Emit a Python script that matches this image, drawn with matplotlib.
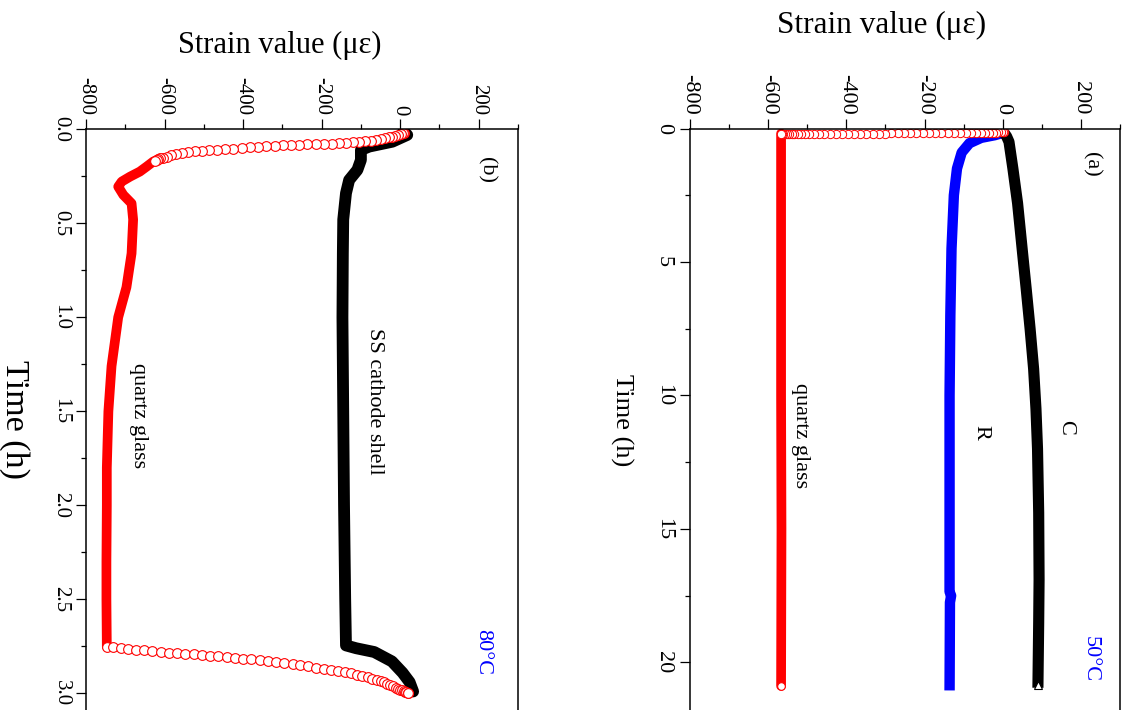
import matplotlib
matplotlib.use('Agg')
import matplotlib.pyplot as plt
from matplotlib.ticker import MultipleLocator, FormatStrFormatter

plt.rcParams['font.family'] = 'Liberation Serif'
plt.rcParams['axes.unicode_minus'] = False

# ---- panel (b), 80 C : time in h, strain in micro-strain ----
b_ss_t = [0.01, 0.03, 0.066, 0.092, 0.11, 0.163, 0.216, 0.27, 0.34, 0.48, 0.66, 1.0, 1.5,
          2.0, 2.5, 2.745, 2.76, 2.78, 2.83, 2.89, 2.94, 2.99]
b_ss_s = [8, 18, -20, -79, -100, -100, -109, -130, -138, -145, -146, -147, -145,
          -143, -140, -138, -112, -66, -21, 6, 24, 33]

b_glass_t = [0.155, 0.172, 0.199, 0.225, 0.252, 0.278, 0.305, 0.349, 0.394, 0.48, 0.66,
             0.84, 1.0, 1.26, 1.5, 1.8, 2.0, 2.3, 2.5, 2.752]
b_glass_s = [-612, -629, -646, -663, -688, -709, -718, -705, -684, -680, -684,
             -697, -718, -735, -743, -747, -747, -748, -748, -747]

# single points visible as open circles (heating start)
b_drop_t = [0.018, 0.022, 0.026, 0.030, 0.034, 0.039, 0.043, 0.047, 0.052, 0.057,
            0.060, 0.063, 0.066, 0.069, 0.072, 0.075, 0.077, 0.078, 0.079, 0.080,
            0.082, 0.083, 0.085, 0.087, 0.090, 0.092, 0.095, 0.099, 0.103, 0.106,
            0.109, 0.112, 0.115, 0.118, 0.122, 0.127, 0.133, 0.139, 0.145, 0.150,
            0.155, 0.159, 0.163, 0.167]
b_drop_s = [10, 6, 1, -5, -12, -20, -29, -39, -50, -62,
            -75, -89, -104, -120, -137, -155, -174, -194, -215, -236,
            -257, -278, -299, -320, -341, -362, -383, -404, -425, -446,
            -466, -486, -505, -523, -540, -556, -570, -583, -594, -604,
            -612, -616, -620, -624]

# open circles at the end (cooling)
b_rise_t = [2.752, 2.755, 2.759, 2.763, 2.767, 2.771, 2.776, 2.780, 2.783, 2.786,
            2.789, 2.792, 2.795, 2.799, 2.803, 2.807, 2.811, 2.815, 2.819, 2.824,
            2.829, 2.834, 2.839, 2.845, 2.851, 2.857, 2.863, 2.869, 2.875, 2.881,
            2.887, 2.893, 2.900, 2.907, 2.914, 2.921, 2.928, 2.935, 2.942, 2.949,
            2.956, 2.963, 2.969, 2.975, 2.980, 2.984, 2.988, 2.991, 2.994, 2.997, 3.0]
b_rise_s = [-747, -730, -712, -693, -673, -652, -631, -610, -589, -568,
            -547, -526, -505, -484, -463, -442, -421, -400, -379, -358,
            -337, -316, -295, -274, -254, -234, -214, -195, -176, -158,
            -141, -125, -110, -96, -83, -71, -60, -50, -41, -33,
            -25, -18, -11, -5, 0, 5, 9, 13, 16, 19, 21]

# ---- panel (a), 50 C ----
a_c_t = [0.15, 0.3, 0.5, 1.5, 2.8, 4.7, 6.0, 7.5, 9.0, 10.5, 12.0, 14.4, 16.9, 18.5, 20.95]
a_c_s = [3, 10, 16, 26, 38, 51, 60, 70, 79, 85, 89, 92, 93, 92, 90]

a_r_t = [0.15, 0.25, 0.35, 0.55, 0.9, 1.5, 2.5, 4.5, 7.0, 10.0, 17.35, 17.5, 17.75, 21.05]
a_r_s = [3, -20, -55, -85, -105, -117, -125, -131, -134, -136, -136, -132, -135, -136]

a_glass_t = [0.19, 5.0, 10.0, 15.0, 20.88]
a_glass_s = [-567, -567, -567, -566, -567]

a_drop_t = [0.13, 0.135, 0.14, 0.145, 0.15, 0.155, 0.16, 0.163, 0.166, 0.169,
            0.172, 0.174, 0.176, 0.178, 0.18, 0.181, 0.182, 0.183, 0.184, 0.185,
            0.186, 0.186, 0.187, 0.187, 0.188, 0.188, 0.188, 0.189, 0.189, 0.189,
            0.19, 0.19, 0.19, 0.19, 0.19, 0.19, 0.19, 0.19, 0.19, 0.19,
            0.19, 0.19, 0.19, 0.19, 0.19, 0.19, 0.19, 0.19, 0.19]
a_drop_s = [4, 0, -5, -11, -18, -26, -35, -45, -56, -68,
            -81, -95, -110, -125, -141, -157, -173, -189, -205, -221,
            -237, -253, -269, -285, -301, -317, -333, -349, -365, -381,
            -397, -412, -427, -442, -456, -470, -483, -495, -506, -516,
            -525, -533, -540, -547, -553, -558, -562, -565, -567]

W, H = 1129, 710
fig = plt.figure(figsize=(W / 100, H / 100), dpi=100)


def px_box(left, right, top, bottom):
    return [left / W, 1 - bottom / H, (right - left) / W, (bottom - top) / H]


def style(ax, ymax, ymajor, yminor, fmt, fs, ypad):
    ax.set_xlim(-800, 300)
    ax.set_ylim(ymax, 0)
    ax.xaxis.set_major_locator(MultipleLocator(200))
    ax.xaxis.set_minor_locator(MultipleLocator(100))
    ax.yaxis.set_major_locator(MultipleLocator(ymajor))
    ax.yaxis.set_minor_locator(MultipleLocator(yminor))
    ax.yaxis.set_major_formatter(FormatStrFormatter(fmt))
    ax.spines['bottom'].set_visible(False)
    for sp in ax.spines.values():
        sp.set_linewidth(1.1)
    ax.tick_params(axis='x', which='both', top=True, bottom=False, labeltop=True,
                   labelbottom=False, direction='out', labelrotation=-90,
                   labelsize=fs, pad=3)
    ax.tick_params(axis='y', which='both', left=True, right=False, direction='out',
                   labelrotation=-90, labelsize=fs, pad=ypad)
    ax.tick_params(which='major', length=7.2, width=0.9)
    ax.tick_params(which='minor', length=3.6, width=0.9)
    for lab in ax.get_yticklabels():
        lab.set_va('center')


ax_b = fig.add_axes(px_box(86, 518, 129.3, 715))
ax_a = fig.add_axes(px_box(690, 1120, 128.5, 715))

# panel (b)
ax_b.plot(b_ss_s, b_ss_t, color='black', lw=8.5, solid_capstyle='round', solid_joinstyle='round')
ax_b.plot(b_glass_s, b_glass_t, color='red', lw=7, solid_capstyle='round', solid_joinstyle='round')
ax_b.plot(b_drop_s, b_drop_t, ls='none', marker='o', ms=7, mfc='white', mec='red', mew=0.8)
ax_b.plot(b_rise_s, b_rise_t, ls='none', marker='o', ms=7, mfc='white', mec='red', mew=0.8)
style(ax_b, 3.115, 0.5, 0.25, '%.1f', 15, 4)

ax_b.text(218, 0.217, '(b)', rotation=-90, ha='center', va='center', fontsize=16)
ax_b.text(-66, 1.445, 'SS cathode shell', rotation=-90, ha='center', va='center', fontsize=16)
ax_b.text(-667, 1.525, 'quartz glass', rotation=-90, ha='center', va='center', fontsize=16)
ax_b.text(210, 2.78, '80°C', rotation=-90, ha='center', va='center', fontsize=16, color='blue')

# panel (a)
ax_a.plot(a_r_s, a_r_t, color='blue', lw=7.5, solid_capstyle='butt', solid_joinstyle='round')
ax_a.plot(a_c_s, a_c_t, color='black', lw=8, solid_capstyle='butt', solid_joinstyle='round')
ax_a.plot(a_glass_s, a_glass_t, color='red', lw=7, solid_capstyle='round')
ax_a.plot(a_drop_s, a_drop_t, ls='none', marker='o', ms=6, mfc='white', mec='red', mew=0.7)
ax_a.plot(a_glass_s[-1:], a_glass_t[-1:], ls='none', marker='o', ms=5.5, mfc='white', mec='red', mew=0.8)
ax_a.plot(a_c_s[-1:], [20.85], ls='none', marker='^', ms=5.5, mfc='white', mec='black', mew=0.8)
style(ax_a, 21.97, 5, 2.5, '%d', 16, 5)

ax_a.text(225, 1.33, '(a)', rotation=-90, ha='center', va='center', fontsize=16)
ax_a.text(160, 11.2, 'C', rotation=-90, ha='center', va='center', fontsize=16)
ax_a.text(-57, 11.4, 'R', rotation=-90, ha='center', va='center', fontsize=16)
ax_a.text(-517, 11.5, 'quartz glass', rotation=-90, ha='center', va='center', fontsize=16)
ax_a.text(224, 19.86, '50°C', rotation=-90, ha='center', va='center', fontsize=16, color='blue')

# axis titles
fig.text(280 / W, 1 - 45 / H, 'Strain value (με)', ha='center', va='center', fontsize=22)
fig.text(882 / W, 1 - 25 / H, 'Strain value (με)', ha='center', va='center', fontsize=22.5)
fig.text(14 / W, 1 - 420 / H, 'Time (h)', rotation=-90, ha='center', va='center', fontsize=24.5)
fig.text(622 / W, 1 - 420 / H, 'Time (h)', rotation=-90, ha='center', va='center', fontsize=19)

fig.savefig('out.png', dpi=100)
